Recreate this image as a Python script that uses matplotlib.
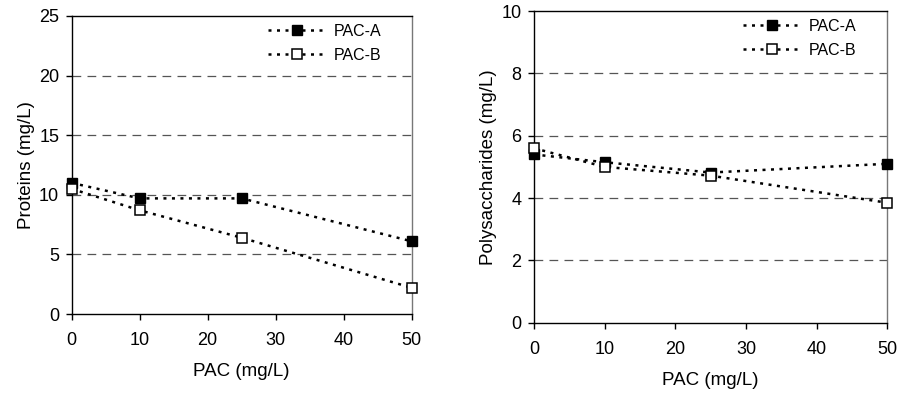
import numpy as np
import matplotlib.pyplot as plt

plt.rcParams['font.family'] = ['Liberation Sans', 'DejaVu Sans']

# data
pac = [0, 10, 25, 50]
prot_a = [11.0, 9.7, 9.7, 6.1]
prot_b = [10.5, 8.7, 6.4, 2.2]
poly_a = [5.4, 5.15, 4.82, 5.1]
poly_b = [5.6, 5.0, 4.72, 3.85]

fig = plt.figure(figsize=(9.04, 3.96), dpi=100)
ax1 = fig.add_axes([0.0793, 0.207, 0.3761, 0.7526])
ax2 = fig.add_axes([0.5907, 0.185, 0.3908, 0.787])


def style(ax, ya, yb, ymax, ystep, ylabel):
    dots = (0, (1.2, 2.2))
    ax.plot(pac, ya, ls=dots, lw=1.8, color='black', marker='s', ms=7.5,
            mfc='black', mec='black', label='PAC-A', zorder=3)
    ax.plot(pac, yb, ls=dots, lw=1.8, color='black', marker='s', ms=6.5,
            mfc='white', mec='black', mew=1.1, label='PAC-B', zorder=3)
    ax.set_xlim(0, 50)
    ax.set_ylim(0, ymax)
    ax.set_xticks([0, 10, 20, 30, 40, 50])
    ax.set_yticks(np.arange(0, ymax + ystep / 2, ystep))
    for v in np.arange(ystep, ymax, ystep):
        ax.axhline(v, color='#555555', lw=0.9, ls=(0, (7, 5)), zorder=1)
    ax.tick_params(direction='out', length=4, width=1, labelsize=13, pad=5)
    ax.tick_params(axis='x', pad=9)
    for s in ax.spines.values():
        s.set_linewidth(1.0)
    ax.spines['right'].set_color('#777777')
    ax.set_xlabel('PAC (mg/L)', fontsize=13.5, labelpad=10)
    ax.set_ylabel(ylabel, fontsize=13.5, labelpad=3)
    ax.legend(loc='upper right', frameon=False, fontsize=11.5, handlelength=3.6,
              handletextpad=0.5, borderaxespad=0.2, labelspacing=0.55,
              borderpad=0.3, bbox_to_anchor=(0.935, 1.0))
    for ln in ax.lines:
        ln.set_clip_on(False)


style(ax1, prot_a, prot_b, 25, 5, 'Proteins (mg/L)')
style(ax2, poly_a, poly_b, 10, 2, 'Polysaccharides (mg/L)')

fig.savefig('out.png', dpi=100)
